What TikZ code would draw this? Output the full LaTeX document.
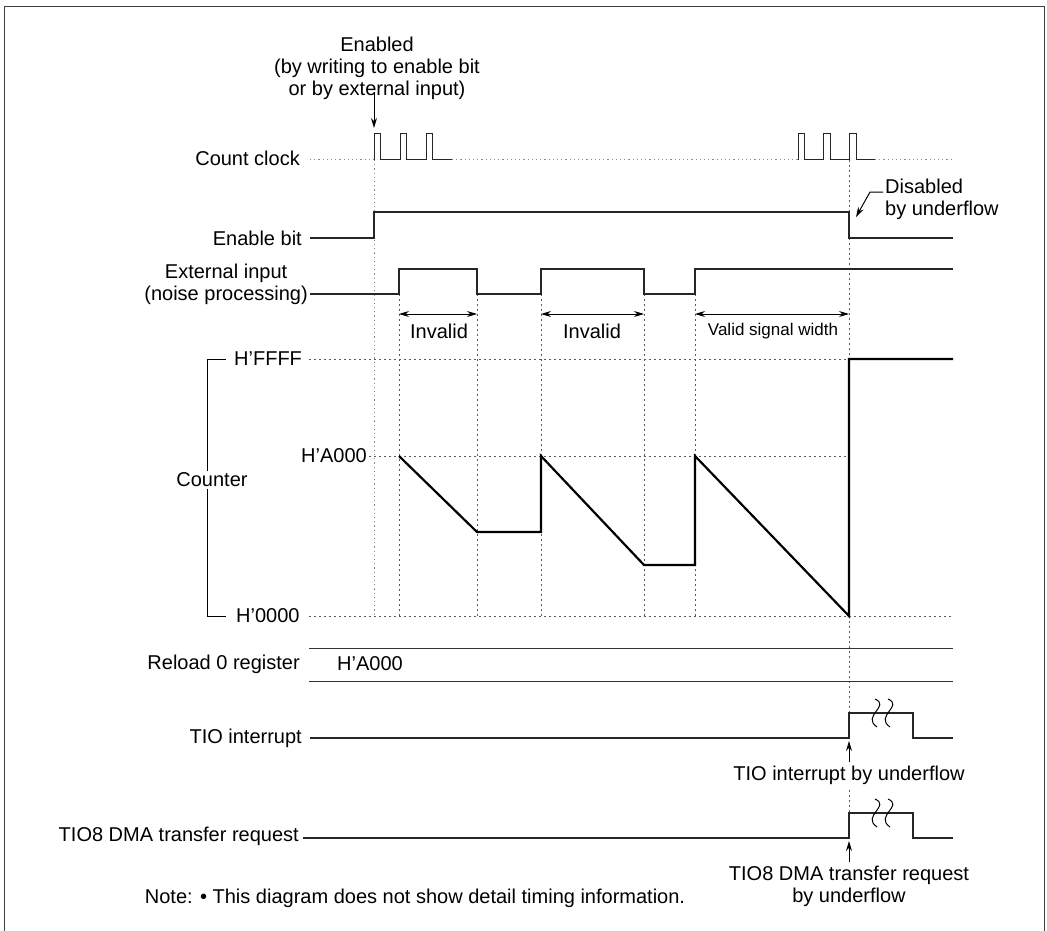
\documentclass[tikz,border=0pt]{standalone}
\usepackage{fontspec}
\setmainfont{Liberation Sans}
\usetikzlibrary{arrows.meta}
\begin{document}
\begin{tikzpicture}[x=1pt,y=-1pt,
  lbl/.style={font=\fontsize{20}{22}\selectfont, inner sep=0pt, align=center},
  rlbl/.style={lbl, anchor=east},
  small/.style={font=\fontsize{17}{20}\selectfont, inner sep=0pt},
  wave/.style={line width=1.3pt, line join=miter, black!85},
  cnt/.style={line width=2.2pt, line join=miter},
  guide/.style={black!65, line width=0.8pt, dash pattern=on 2pt off 3pt},
  dotguide/.style={black!45, line width=1pt, dash pattern=on 1.2pt off 3pt},
  tip/.style={-{Stealth[length=10pt,width=6pt]}, line width=1pt},
  dtip/.style={{Stealth[length=10pt,width=6pt]}-{Stealth[length=10pt,width=6pt]}, line width=1pt},
  brk/.style={line width=1pt}]
\useasboundingbox (0,0) rectangle (1047,931);
% frame
\draw[line width=1pt, black!75] (4,931) -- (4,7) -- (1044,7) -- (1044,931);

% ---------- labels ----------
\node[lbl] (enabled) at (377,68) {Enabled\\(by writing to enable bit\\or by external input)};
\node[rlbl] (lclk) at (300,158) {Count clock};
\node[rlbl] (len) at (302,238) {Enable bit};
\node[rlbl] (lext) at (308,284) {External input\\(noise processing)};
\node[lbl, fill=white, inner sep=2pt] (lcnt) at (212,480) {Counter};
\node[lbl, anchor=west] (lffff) at (234,359) {H'FFFF};
\node[rlbl] (la000) at (367,456) {H'A000};
\node[lbl, anchor=west] (l0000) at (236,616) {H'0000};
\node[rlbl] (lrel) at (300,664) {Reload 0 register};
\node[lbl, anchor=west] (vrel) at (337,664) {H'A000};
\node[rlbl] (ltio) at (302,738) {TIO interrupt};
\node[rlbl] (ldma) at (299,836) {TIO8 DMA transfer request};
\node[lbl, align=left, anchor=west] (ldis) at (885,199) {Disabled\\by underflow};
\node[lbl] (inv1) at (439,331) {Invalid};
\node[lbl] (inv2) at (592,331) {Invalid};
\node[small] (valid) at (773,331) {Valid signal width};
\node[lbl] (ntio) at (849,775) {TIO interrupt by underflow};
\node[lbl] (ndma) at (849,886) {TIO8 DMA transfer request\\by underflow};
\node[lbl] (note) at (415,898) {Note: \textbullet\ This diagram does not show detail timing information.};

% ---------- coordinates ----------
\coordinate (a0) at (374,160);
\coordinate (a1) at (399,294);
\coordinate (a2) at (477,294);
\coordinate (a3) at (541,294);
\coordinate (a4) at (644,294);
\coordinate (a5) at (695,294);
\coordinate (u)  at (849,160);

% ---------- guide lines ----------
\draw[dotguide] (310,160) -- (374,160);
\draw[dotguide] (452,160) -- (798,160);
\draw[dotguide] (875,160) -- (953,160);
\draw[dotguide] (a0) -- (374,616);
\foreach \c in {a1,a2,a3,a4,a5} \draw[guide] (\c) -- (\c |- 0,616);
\draw[guide] (u) -- (849,212);
\draw[guide] (849,238) -- (849,359);
\draw[guide] (849,616) -- (849,713);
\draw[guide] (849,790) -- (849,813);
\draw[guide] (309,359) -- (849,359);
\draw[guide] (369,456) -- (849,456);
\draw[guide] (309,616) -- (953,616);

% counter bracket
\draw[line width=1pt] (226,359) -- (207,359) -- (lcnt.north -| 207,0);
\draw[line width=1pt] (lcnt.south -| 207,0) -- (207,616) -- (226,616);

% ---------- waveforms ----------
% count clock
\draw[wave, line width=1pt] (374,160) -- (374,134) -- (380,134) -- (380,160) -- (400,160) -- (400,134) -- (406,134) -- (406,160)
  -- (426,160) -- (426,134) -- (432,134) -- (432,160) -- (452,160);
\draw[wave, line width=1pt] (798,160) -- (798,134) -- (804,134) -- (804,160) -- (823,160) -- (823,134) -- (830,134) -- (830,160)
  -- (849,160) -- (849,134) -- (856,134) -- (856,160) -- (875,160);
% enable bit
\draw[wave] (310,238) -- (374,238) -- (374,212) -- (849,212) -- (849,238) -- (953,238);
% external input
\draw[wave] (310,294) -- (399,294) -- (399,269) -- (477,269) -- (477,294) -- (541,294) -- (541,269) -- (644,269)
  -- (644,294) -- (695,294) -- (695,269) -- (953,269);
% width arrows
\draw[dtip] (399,314) -- (477,314);
\draw[dtip] (541,314) -- (644,314);
\draw[dtip] (695,314) -- (849,314);
% counter
\draw[cnt] (399,456) -- (477,532) -- (541,532) -- (541,456) -- (644,565) -- (695,565) -- (695,456) -- (849,616)
  -- (849,359) -- (953,359);
% reload register
\draw[line width=1pt, black!80] (309,648) -- (953,648);
\draw[line width=1pt, black!80] (309,681) -- (953,681);
% TIO interrupt
\draw[wave] (310,738) -- (849,738) -- (849,713) -- (913,713) -- (913,738) -- (953,738);
\draw[brk] (875,699) .. controls (891,706) and (861,716) .. (877,727);
\draw[brk] (888,699) .. controls (904,706) and (874,716) .. (890,727);
% TIO8 DMA
\draw[wave] (303,838) -- (849,838) -- (849,813) -- (913,813) -- (913,838) -- (953,838);
\draw[brk] (875,799) .. controls (891,806) and (861,816) .. (877,827);
\draw[brk] (888,799) .. controls (904,806) and (874,816) .. (890,827);

% ---------- annotation arrows ----------
\draw[tip] (enabled.south -| a0) ++(0,-8) -- (374,128);
\draw[tip] (883,192) -- (870,192) -- (856,217);
\draw[tip] (ntio.north -| u) ++(0,-3) -- (849,741);
\draw[tip] (ndma.north -| u) ++(0,-3) -- (849,841);
\end{tikzpicture}
\end{document}
